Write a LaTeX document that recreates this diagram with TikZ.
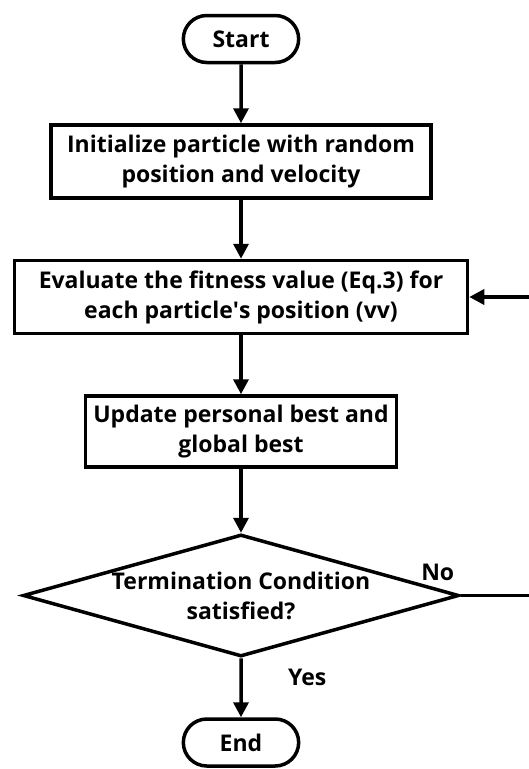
\documentclass[tikz,border=0pt]{standalone}
\usepackage{fontspec}
\setmainfont{Open Sans}
\usetikzlibrary{calc,shapes,arrows.meta,positioning}

\begin{document}
\begin{tikzpicture}[x=1pt,y=1pt,
    block/.style={rectangle,
        draw=black,
        line width=3.5pt,
        fill=white,
        text centered,
        align=center,
        inner sep=0pt},
    term/.style={rounded rectangle,
        draw=black,
        line width=3.5pt,
        minimum width=122pt,
        minimum height=47pt},
    decision/.style={diamond,
        draw=black,
        line width=3.5pt,
        aspect=3.5,
        inner sep=0pt,
        align=center,
        minimum width=436pt,
        minimum height=122pt},
    flow/.style={line width=3.5pt,-{Triangle[length=15pt,width=15pt]}},
        on grid=false,
        node distance=59pt,
        font=\bfseries\fontsize{23}{30}\selectfont,
    ]

    \useasboundingbox (-241,39) rectangle (287,-730);

    \node [term] (start) {Start};
    \node [block, minimum width=380pt, minimum height=73pt, below = of start] (init) {Initialize particle with random\\position and velocity};
    \node [block, minimum width=453pt, minimum height=73pt, below = of init] (eval) {Evaluate the fitness value (Eq.3) for\\each particle\textquotesingle s position (vv)};
    \node [block, minimum width=311pt, minimum height=71pt, below = of eval] (update) {Update personal best and\\global best};
    \node [decision, below = 64pt of update] (dec) {Termination Condition\\satisfied?};
    \node [term, below = of dec] (end) {End};

    \coordinate [right = 75pt of dec.east] (noend);
    \coordinate [right = 65pt of eval.east] (evalin);
    \node [anchor=south east] (nolbl) at ([xshift=-3pt,yshift=11pt]dec.east) {No};

    \draw[flow] (start) -- (init);
    \draw[flow] (init) -- (eval);
    \draw[flow] (eval) -- (update);
    \draw[flow] (update) -- (dec);
    \draw[flow] (dec) -- node[pos=0.33, right=42pt] {Yes} (end);
    \draw[line width=3.5pt] (dec.east) -- (noend);
    \draw[flow] (evalin) -- (eval.east);
\end{tikzpicture}
\end{document}
